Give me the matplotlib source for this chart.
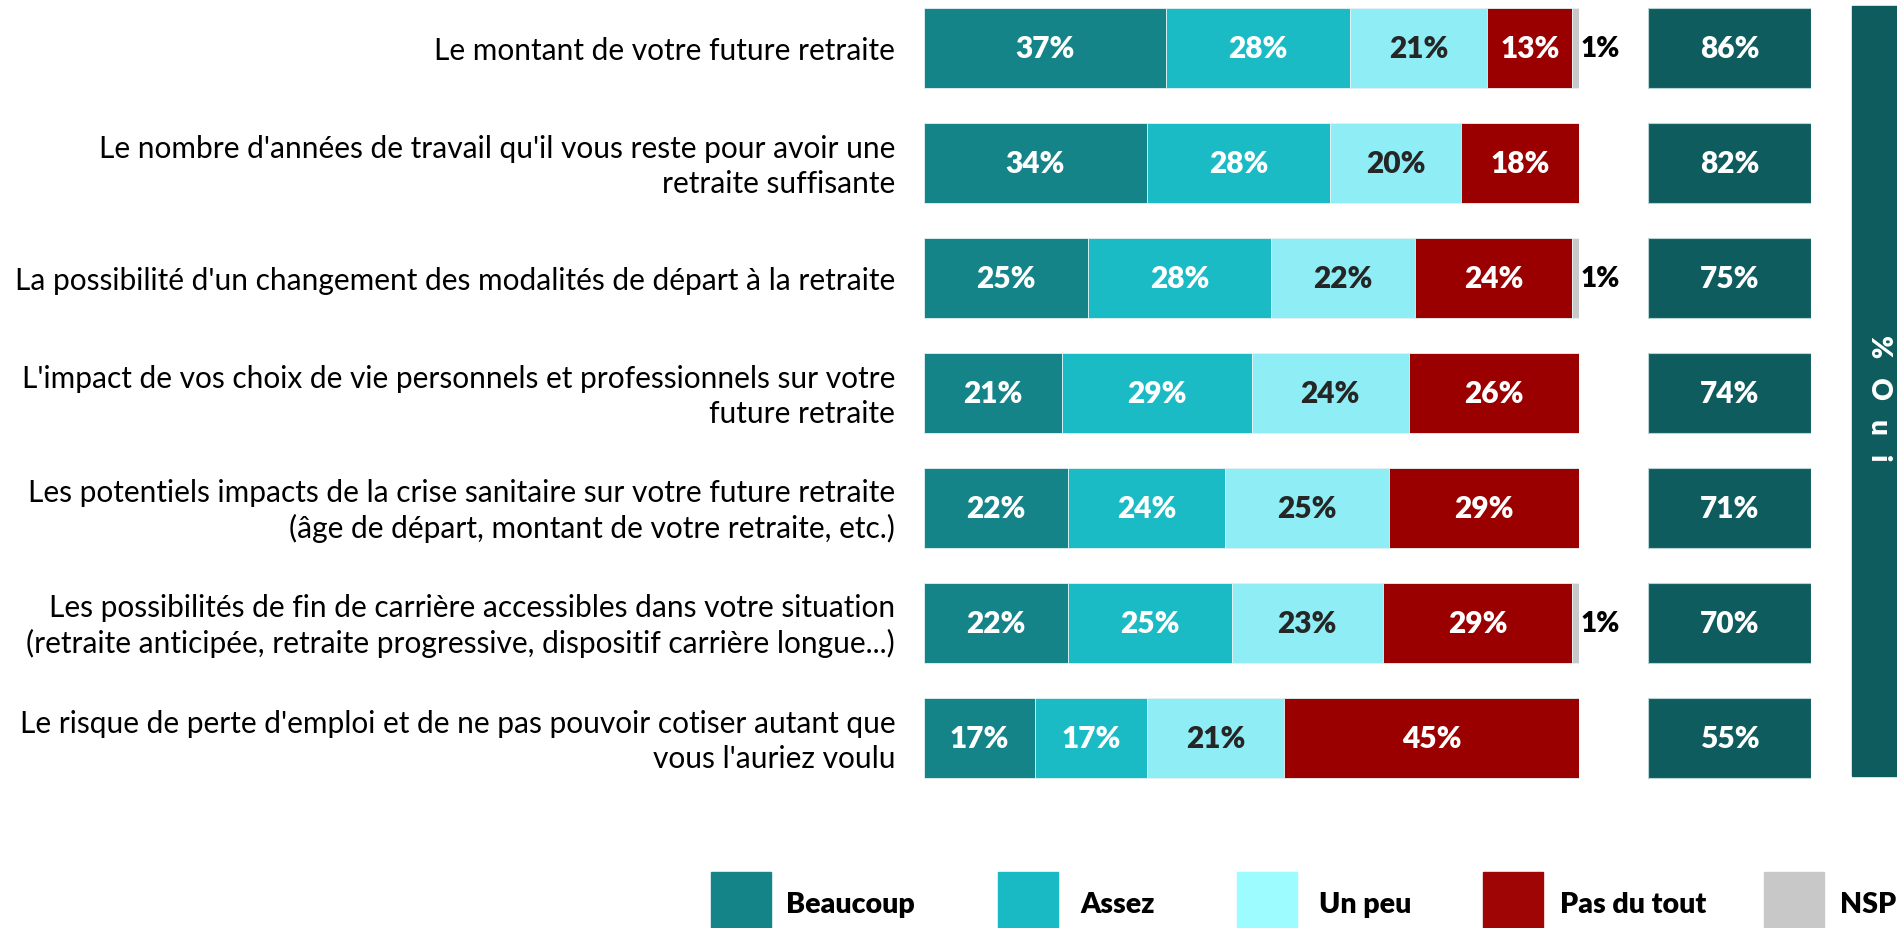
import matplotlib.pyplot as plt
from matplotlib.patches import Rectangle

plt.rcParams['font.family'] = ['Lato', 'DejaVu Sans']

questions = [
    "Le montant de votre future retraite",
    "Le nombre d'années de travail qu'il vous reste pour avoir une\nretraite suffisante",
    "La possibilité d'un changement des modalités de départ à la retraite",
    "L'impact de vos choix de vie personnels et professionnels sur votre\nfuture retraite",
    "Les potentiels impacts de la crise sanitaire sur votre future retraite\n(âge de départ, montant de votre retraite, etc.)",
    "Les possibilités de fin de carrière accessibles dans votre situation\n(retraite anticipée, retraite progressive, dispositif carrière longue...)",
    "Le risque de perte d'emploi et de ne pas pouvoir cotiser autant que\nvous l'auriez voulu",
]
beaucoup = [37, 34, 25, 21, 22, 22, 17]
assez = [28, 28, 28, 29, 24, 25, 17]
un_peu = [21, 20, 22, 24, 25, 23, 21]
pas_du_tout = [13, 18, 24, 26, 29, 29, 45]
nsp = [1, 0, 1, 0, 0, 1, 0]
oui = [86, 82, 75, 74, 71, 70, 55]

series = ['Beaucoup', 'Assez', 'Un peu', 'Pas du tout', 'NSP']
colors = ['#158488', '#1ABBC4', '#8FEEF5', '#9A0000', '#C8C8C8']
text_colors = ['white', 'white', '#262626', 'white', 'black']
legend_colors = ['#158488', '#19BAC3', '#9CFCFF', '#A00505', '#C8C8C8']

W, H = 1897, 929
fig = plt.figure(figsize=(W / 100, H / 100), dpi=100)

# pixel layout helpers
row0, pitch = 49, 115
y_top_px, y_bot_px = 0, 790
ylim = ((y_bot_px - row0) / pitch, (y_top_px - row0) / pitch)


def add_ax(x0, x1):
    ax = fig.add_axes([x0 / W, (H - y_bot_px) / H, (x1 - x0) / W, (y_bot_px - y_top_px) / H])
    ax.set_ylim(*ylim)
    ax.axis('off')
    return ax


ax = add_ax(924, 1579)
ax.set_xlim(0, 100)
rows = list(range(len(questions)))
bar_h = 80 / pitch
left = [0] * len(rows)
for name, vals, c, tc in zip(series, [beaucoup, assez, un_peu, pas_du_tout, nsp], colors, text_colors):
    ax.barh(rows, vals, left=left, height=bar_h, color=c, edgecolor='#e6f2f2', linewidth=0.6)
    for r, v, l in zip(rows, vals, left):
        if v == 0:
            continue
        if name == 'NSP':
            ax.text(l + v + 0.3, r, f'{v}%', ha='left', va='center', fontsize=20,
                    fontweight='heavy', color='black')
        else:
            ax.text(l + v / 2, r, f'{v}%', ha='center', va='center', fontsize=21.5,
                    fontweight='heavy', color=tc)
    left = [a + b for a, b in zip(left, vals)]

for r, q in zip(rows, questions):
    ax.text(-4.4, r + 0.02, q, ha='right', va='center', fontsize=21.5, linespacing=1.3,
            color='black')

ax2 = add_ax(1648, 1811)
ax2.set_xlim(0, 1)
ax2.barh(rows, [1] * len(rows), height=bar_h, color='#0E5C5E', edgecolor='#b8d4d4', linewidth=0.8)
for r, v in zip(rows, oui):
    ax2.text(0.5, r, f'{v}%', ha='center', va='center', fontsize=21.5, fontweight='heavy',
             color='white')

# tall "% Oui" band
fig.patches.append(Rectangle((1852 / W, (H - 777) / H), 60 / W, 770 / H,
                             transform=fig.transFigure, color='#0E5C5E'))
fig.text(1879 / W, (H - 398) / H, '%   O   u   i', rotation=270, ha='center', va='center',
         fontsize=20, fontweight='heavy', color='white')

# legend
leg_sq_x = [711, 998, 1237, 1483, 1764]
leg_txt_x = [786, 1080, 1319, 1560, 1840]
for name, c, sx, tx in zip(series, legend_colors, leg_sq_x, leg_txt_x):
    fig.patches.append(Rectangle((sx / W, 0), 60 / W, 56 / H, transform=fig.transFigure,
                                 color=c))
    fig.text(tx / W, (H - 905) / H, name, ha='left', va='center', fontsize=20.5,
             fontweight='heavy', color='black')

fig.savefig('out.png', dpi=100)
